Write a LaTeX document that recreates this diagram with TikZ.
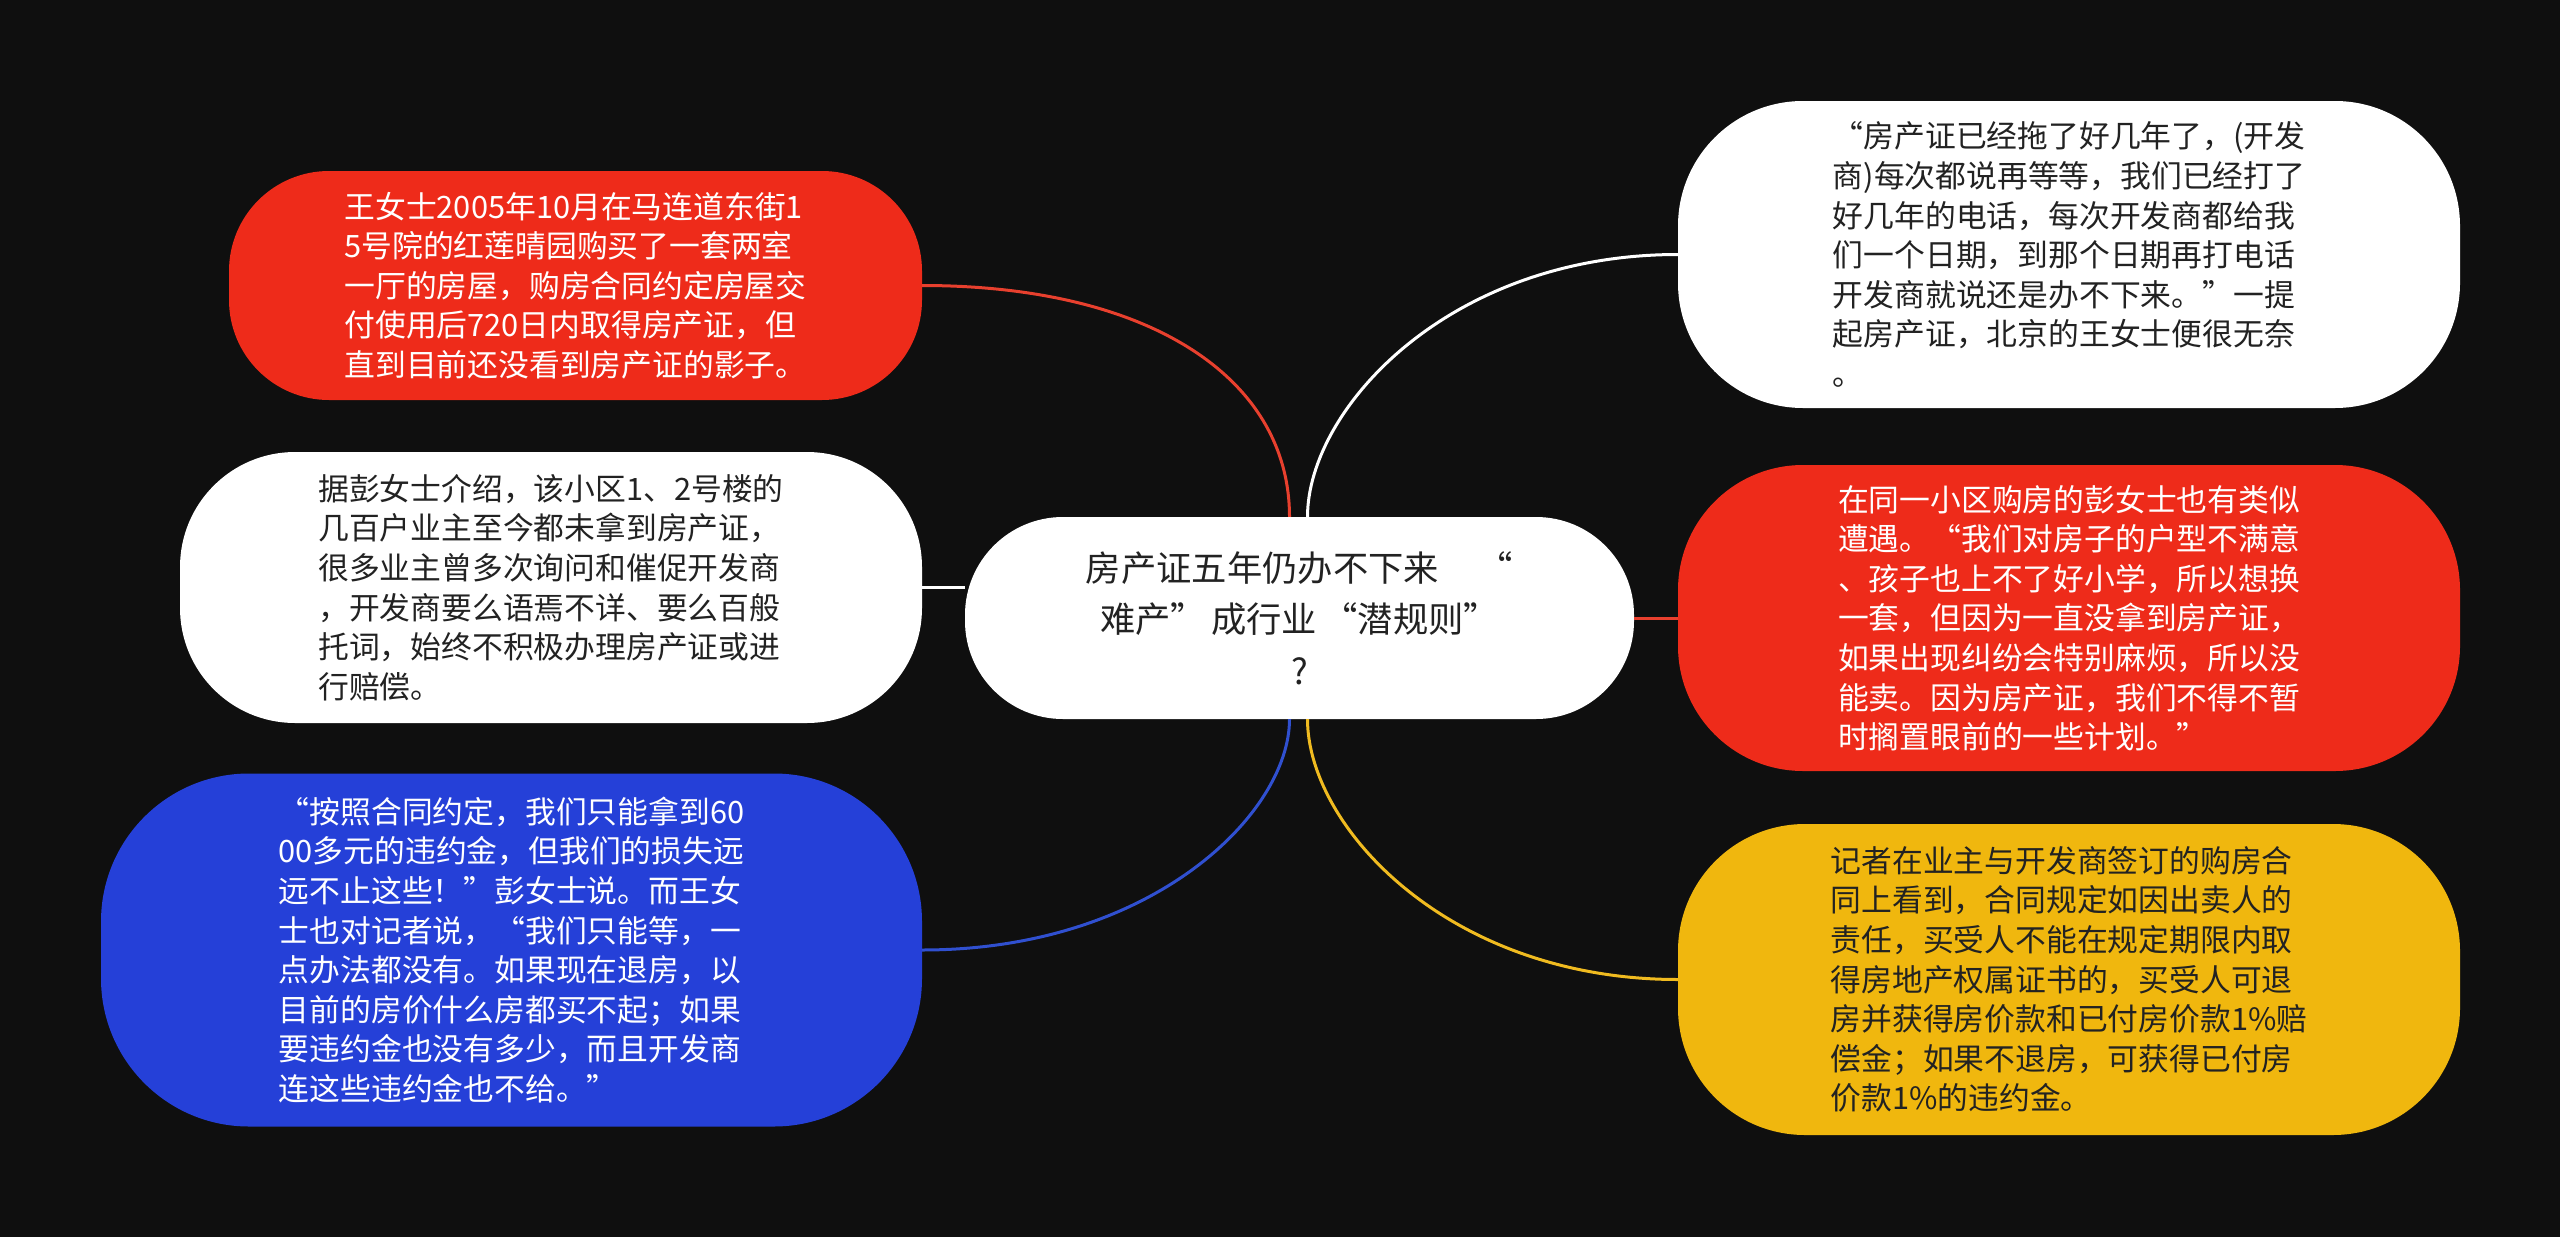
\documentclass[tikz,border=0pt]{standalone}
\usepackage{fontspec}
\setmainfont{Noto Sans CJK SC}
\newfontfamily\fwq[CharacterWidth=Full]{Noto Sans CJK SC}
\newcommand\qL{{\fwq “}}
\newcommand\qR{{\fwq ”}}
\definecolor{bgc}{HTML}{0F0F0F}
\definecolor{redc}{HTML}{EE2B1A}
\definecolor{bluec}{HTML}{2540D8}
\definecolor{yelc}{HTML}{F0B70E}
\definecolor{txtdark}{HTML}{222222}
\definecolor{redl}{HTML}{E8402E}
\definecolor{bluel}{HTML}{3050D0}
\definecolor{yell}{HTML}{F0BB20}
\begin{document}
\begin{tikzpicture}[x=1pt,y=-1pt,
  leafbox/.style={align=left, inner sep=0pt, font=\fontsize{30.8}{39.6}\selectfont},
  rootbox/.style={align=center, inner sep=0pt, fill=white, text=txtdark,
    font=\fontsize{35.3}{51.5}\selectfont},
  link/.style={line width=3pt}]
\fill[bgc] (0,0) rectangle (2560,1237);
\useasboundingbox (0,0) rectangle (2560,1237);

% root
\node[rootbox, minimum width=669pt, minimum height=202pt, rounded corners=98pt] (c) at (1299.5,618)
  {房产证五年仍办不下来\hspace{1.1em}\qL\\难产\qR\hspace{0.15em}成行业\hspace{0.15em}\qL 潜规则\qR\\?};

% left side
\node[leafbox, fill=redc, text=white, minimum width=693pt, minimum height=229pt, rounded corners=100pt] (r1) at (575.5,285.5)
  {王女士2005年10月在马连道东街1\\
5号院的红莲晴园购买了一套两室\\
一厅的房屋，购房合同约定房屋交\\
付使用后720日内取得房产证，但\\
直到目前还没看到房产证的影子。};

\node[leafbox, fill=white, text=txtdark, minimum width=742pt, minimum height=271pt, rounded corners=115pt] (w1) at (551,587.5)
  {据彭女士介绍，该小区1、2号楼的\\
几百户业主至今都未拿到房产证，\\
很多业主曾多次询问和催促开发商\\
，开发商要么语焉不详、要么百般\\
托词，始终不积极办理房产证或进\\
行赔偿。};

\node[leafbox, fill=bluec, text=white, minimum width=821pt, minimum height=353pt, rounded corners=148pt] (b1) at (511.5,950)
  {\qL 按照合同约定，我们只能拿到60\\
00多元的违约金，但我们的损失远\\
远不止这些！\qR 彭女士说。而王女\\
士也对记者说，\qL 我们只能等，一\\
点办法都没有。如果现在退房，以\\
目前的房价什么房都买不起；如果\\
要违约金也没有多少，而且开发商\\
连这些违约金也不给。\qR};

% right side
\node[leafbox, fill=white, text=txtdark, minimum width=782pt, minimum height=307pt, rounded corners=125pt] (w2) at (2069,254.5)
  {\qL 房产证已经拖了好几年了，(开发\\
商)每次都说再等等，我们已经打了\\
好几年的电话，每次开发商都给我\\
们一个日期，到那个日期再打电话\\
开发商就说还是办不下来。\qR 一提\\
起房产证，北京的王女士便很无奈\\
。};

\node[leafbox, fill=redc, text=white, minimum width=782pt, minimum height=306pt, rounded corners=125pt] (r2) at (2069,618)
  {在同一小区购房的彭女士也有类似\\
遭遇。\qL 我们对房子的户型不满意\\
、孩子也上不了好小学，所以想换\\
一套，但因为一直没拿到房产证，\\
如果出现纠纷会特别麻烦，所以没\\
能卖。因为房产证，我们不得不暂\\
时搁置眼前的一些计划。\qR};

\node[leafbox, fill=yelc, text=txtdark, minimum width=782pt, minimum height=311pt, rounded corners=127pt] (y2) at (2069,979.5)
  {记者在业主与开发商签订的购房合\\
同上看到，合同规定如因出卖人的\\
责任，买受人不能在规定期限内取\\
得房地产权属证书的，买受人可退\\
房并获得房价款和已付房价款1\%赔\\
偿金；如果不退房，可获得已付房\\
价款1\%的违约金。};

% connectors
\draw[link, redl] (r1.east) .. controls +(230,0) and +(0,-137) .. ([xshift=-10pt]c.north);
\draw[link, white] (w1.east) -- (w1.east -| c.west);
\draw[link, bluel] (b1.east) .. controls +(230,0) and +(0,94) .. ([xshift=-10pt]c.south);
\draw[link, white] (w2.west) .. controls +(-230,0) and +(0,-107) .. ([xshift=8pt]c.north);
\draw[link, redl] (r2.west) -- (r2.west -| c.east);
\draw[link, yell] (y2.west) .. controls +(-230,0) and +(0,107) .. ([xshift=8pt]c.south);
\end{tikzpicture}
\end{document}
